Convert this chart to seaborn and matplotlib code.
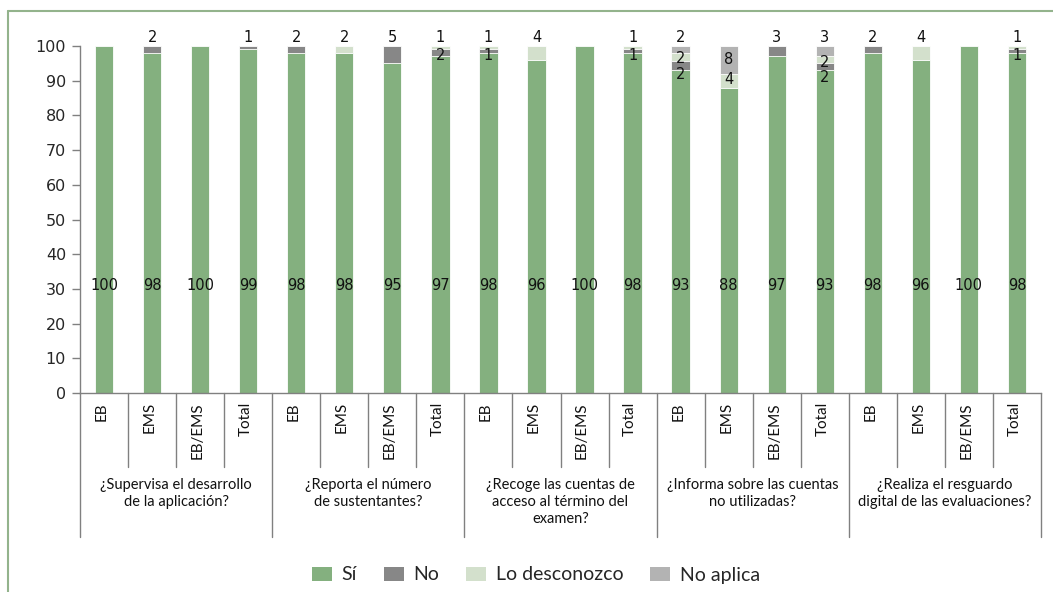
import matplotlib
matplotlib.use("Agg")
import matplotlib.pyplot as plt
from matplotlib.patches import Patch
from matplotlib.lines import Line2D
import matplotlib.transforms as mtransforms
import numpy as np
import pandas as pd
import seaborn as sns

sns.set_style("white")

# data
questions = ["¿Supervisa el desarrollo\nde la aplicación?",
             "¿Reporta el número\nde sustentantes?",
             "¿Recoge las cuentas de\nacceso al término del\nexamen?",
             "¿Informa sobre las cuentas\nno utilizadas?",
             "¿Realiza el resguardo\ndigital de las evaluaciones?"]
levels = ["EB", "EMS", "EB/EMS", "Total"]

si =          [100, 98, 100, 99,   98, 98, 95, 97,   98, 96, 100, 98,   93.2, 88, 97, 93,   98, 96, 100, 98]
no =          [0, 2, 0, 1,         2, 0, 5, 2,       1, 0, 0, 1,        2.4, 0, 3, 2,       2, 0, 0, 1]
desconozco =  [0, 0, 0, 0,         0, 2, 0, 1,       1, 4, 0, 1,        2.4, 4, 0, 2,       0, 4, 0, 1]
no_aplica =   [0, 0, 0, 0,         0, 0, 0, 0,       0, 0, 0, 0,        2.0, 8, 0, 3,       0, 0, 0, 0]

series = ["Sí", "No", "Lo desconozco", "No aplica"]
colors = ["#84b07f", "#878787", "#d3e0cc", "#b3b3b3"]

ids = [f"{q}-{l}" for q in range(len(questions)) for l in range(len(levels))]
df = pd.DataFrame({"id": ids, "Sí": si, "No": no,
                   "Lo desconozco": desconozco, "No aplica": no_aplica})
vals = df[series].to_numpy()
cum = vals.cumsum(axis=1)

fig = plt.figure(figsize=(10.53, 5.92), dpi=100)
ax = fig.add_axes([80/1053, 1-393/592, (1041-80)/1053, (393-46)/592])

# stacked bars: draw cumulative totals from top layer down
for k in reversed(range(4)):
    sns.barplot(x=df["id"], y=cum[:, k], color=colors[k], saturation=1,
                width=0.38, errorbar=None, edgecolor="white", linewidth=0.6,
                ax=ax, order=ids)

num_font = "DejaVu Sans"
txt_font = "Lato"
lab_kw = dict(ha="center", fontsize=10.5, family=num_font, color="#111111", clip_on=False)

# value labels
for i in range(len(ids)):
    ax.text(i, 31, f"{vals[i, 0]:.0f}", va="center", **lab_kw)
    nz = [k for k in range(1, 4) if vals[i, k] > 0]
    prev = None
    for k in reversed(nz):
        v = vals[i, k]
        lab = f"{v:.0f}"
        if k == nz[-1] and v <= 5:
            ax.text(i, cum[i, k] + 0.4, lab, va="bottom", **lab_kw)
            continue
        if v > 5:
            yc = cum[i, k] - v / 2
        else:
            yc = cum[i, k] - 1.7
        if prev is not None:
            yc = min(yc, prev - 4.5)
        ax.text(i, yc, lab, va="center", **lab_kw)
        prev = yc

ax.set_ylim(0, 100)
ax.set_xlim(-0.5, len(ids) - 0.5)
ax.set_yticks(range(0, 101, 10))
ax.set_yticklabels([str(t) for t in range(0, 101, 10)], family=num_font, fontsize=11.5)
ax.tick_params(axis="y", direction="out", length=6, width=1, color="#808080",
               left=True, pad=4)
ax.set_xticks([])
ax.set_xlabel("")
ax.set_ylabel("")
for s in ["top", "right"]:
    ax.spines[s].set_visible(False)
for s in ["left", "bottom"]:
    ax.spines[s].set_color("#808080")
    ax.spines[s].set_linewidth(1)

# multi-level category axis
trans = mtransforms.blended_transform_factory(ax.transData, ax.transAxes)
for b in range(len(ids) + 1):
    x = b - 0.5
    low = -0.415 if b % 4 == 0 else -0.213
    ax.add_line(Line2D([x, x], [0, low], transform=trans, color="#808080",
                       lw=1, clip_on=False))
for i in range(len(ids)):
    ax.text(i - 0.05, -0.026, levels[i % 4], rotation=90, ha="center", va="top",
            transform=trans, fontsize=11, family=txt_font, color="#111111")
for g, q in enumerate(questions):
    ax.text(4 * g + 1.5, -0.245, q, ha="center", va="top", transform=trans,
            fontsize=10.5, family=txt_font, color="#111111", linespacing=1.25)

# legend
handles = [Patch(facecolor=c, edgecolor="none") for c in colors]
fig.legend(handles, series, loc="center", bbox_to_anchor=(536/1053, 17/592), ncol=4,
           frameon=False, handlelength=1.0, handleheight=0.7, handletextpad=0.5,
           columnspacing=1.4, prop={"family": txt_font, "size": 14})

# outer frame (top and left)
fig.add_artist(Line2D([8/1053, 1], [1-11/592, 1-11/592], transform=fig.transFigure,
                      color="#93b38c", lw=1.5))
fig.add_artist(Line2D([8/1053, 8/1053], [0, 1-11/592], transform=fig.transFigure,
                      color="#93b38c", lw=1.5))

fig.savefig("out.png", dpi=100)
